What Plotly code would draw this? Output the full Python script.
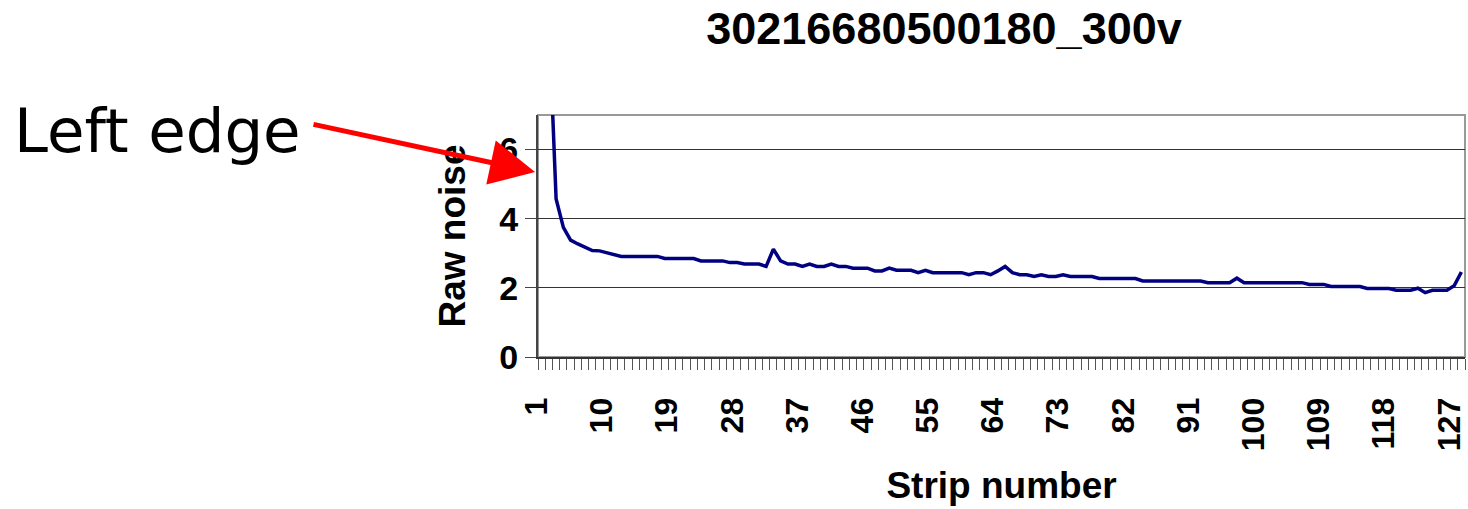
import plotly.graph_objects as go

# ---- data ----
strips = list(range(1, 129))
raw_noise = (
    [15.0, 10.0, 4.57, 3.75, 3.38, 3.27, 3.17, 3.08, 3.07, 3.02,
     2.96, 2.91, 2.91, 2.91, 2.91, 2.91, 2.91, 2.85, 2.85, 2.85,
     2.85, 2.85, 2.78, 2.78, 2.78, 2.78, 2.73, 2.73, 2.69, 2.69,
     2.69, 2.62, 3.12, 2.78, 2.69, 2.69, 2.62, 2.69, 2.62, 2.62,
     2.69, 2.62, 2.62, 2.57, 2.57, 2.57, 2.49, 2.49, 2.57, 2.51,
     2.51, 2.51, 2.44, 2.51, 2.44, 2.44, 2.44, 2.44, 2.44, 2.38,
     2.44, 2.44, 2.38, 2.49, 2.62, 2.44, 2.38, 2.38, 2.33, 2.38,
     2.33, 2.33, 2.38, 2.33, 2.33, 2.33, 2.33, 2.27, 2.27, 2.27,
     2.27, 2.27, 2.27, 2.20, 2.20, 2.20, 2.20, 2.20, 2.20, 2.20,
     2.20, 2.20, 2.15, 2.15, 2.15, 2.15, 2.28, 2.15, 2.15, 2.15,
     2.15, 2.15, 2.15, 2.15, 2.15, 2.15, 2.10, 2.10, 2.10, 2.04,
     2.04, 2.04, 2.04, 2.04, 1.98, 1.98, 1.98, 1.98, 1.93, 1.93,
     1.93, 1.99, 1.86, 1.93, 1.93, 1.93, 2.06, 2.46]
)
assert len(raw_noise) == len(strips)
x_tick_labels = [1, 10, 19, 28, 37, 46, 55, 64, 73, 82, 91, 100, 109, 118, 127]
y_tick_values = [0, 2, 4, 6]
title_text = "30216680500180_300v"
x_title = "Strip number"
y_title = "Raw noise"
note_text = "Left edge"

W, H = 1468, 509
L, R, T, B = 538, 3, 115, 152
PW = W - L - R
PH = H - T - B

def px_x(px):
    return (px - L) / PW

def px_y(py):
    return (H - B - py) / PH

bold = "Liberation Sans, Arial, sans-serif"

fig = go.Figure()
fig.add_trace(go.Scatter(
    x=strips, y=raw_noise, mode="lines",
    line=dict(color="#000080", width=3.5),
    showlegend=False, hoverinfo="x+y",
))

fig.update_layout(
    width=W, height=H,
    margin=dict(l=L, r=R, t=T, b=B, autoexpand=False),
    plot_bgcolor="white", paper_bgcolor="white",
    title=dict(
        text="<b>%s</b>" % title_text,
        font=dict(family=bold, size=45, color="black"),
        x=944 / W, xref="container", xanchor="center",
        y=1 - 28 / H, yref="container", yanchor="middle",
    ),
    font=dict(family=bold, color="black"),
)

fig.update_xaxes(
    range=[0.5, 128.5],
    tickmode="array", tickvals=x_tick_labels,
    ticktext=["<b>%d</b>" % v for v in x_tick_labels],
    tickangle=-90, tickfont=dict(size=32, family=bold),
    ticks="", ticklabelstandoff=26, ticklabelshift=-5, ticklabeloverflow="allow",
    minor=dict(tickmode="linear", tick0=0.5, dtick=1, ticks="outside",
               ticklen=11, tickcolor="#555", tickwidth=1, showgrid=False),
    showgrid=False, zeroline=False,
    showline=True, linecolor="#333", linewidth=2,
    title=dict(text="<b>%s</b>" % x_title, font=dict(size=37, family=bold),
               standoff=22),
    automargin=False,
)

fig.update_yaxes(
    range=[0, 7],
    tickmode="array", tickvals=y_tick_values,
    ticktext=["<b>%d</b>" % v for v in y_tick_values],
    tickfont=dict(size=34, family=bold),
    ticks="outside", ticklen=11, tickcolor="#444", tickwidth=1,
    showgrid=True, gridcolor="#333", gridwidth=1,
    zeroline=False,
    showline=True, linecolor="#444", linewidth=2,
    title=dict(text="<b>%s</b>" % y_title, font=dict(size=37, family=bold),
               standoff=22),
    automargin=False,
)

# frame (top/right in gray)
fig.add_shape(type="rect", xref="paper", yref="paper", x0=0, x1=1, y0=0, y1=1,
              line=dict(color="#999", width=2), layer="below")

# "Left edge" note and arrow
fig.add_annotation(
    text=note_text, xref="paper", yref="paper",
    x=px_x(12), y=px_y(130), xanchor="left", yanchor="middle",
    showarrow=False, font=dict(family="DejaVu Sans", size=61, color="black"),
)
fig.add_annotation(
    text="", xref="paper", yref="paper",
    x=px_x(535), y=px_y(172),
    ax=312 - 535, ay=124 - 172,
    showarrow=True, arrowhead=2, arrowsize=1.8, arrowwidth=5,
    arrowcolor="#ff0000",
)

fig.write_html("out.html")
